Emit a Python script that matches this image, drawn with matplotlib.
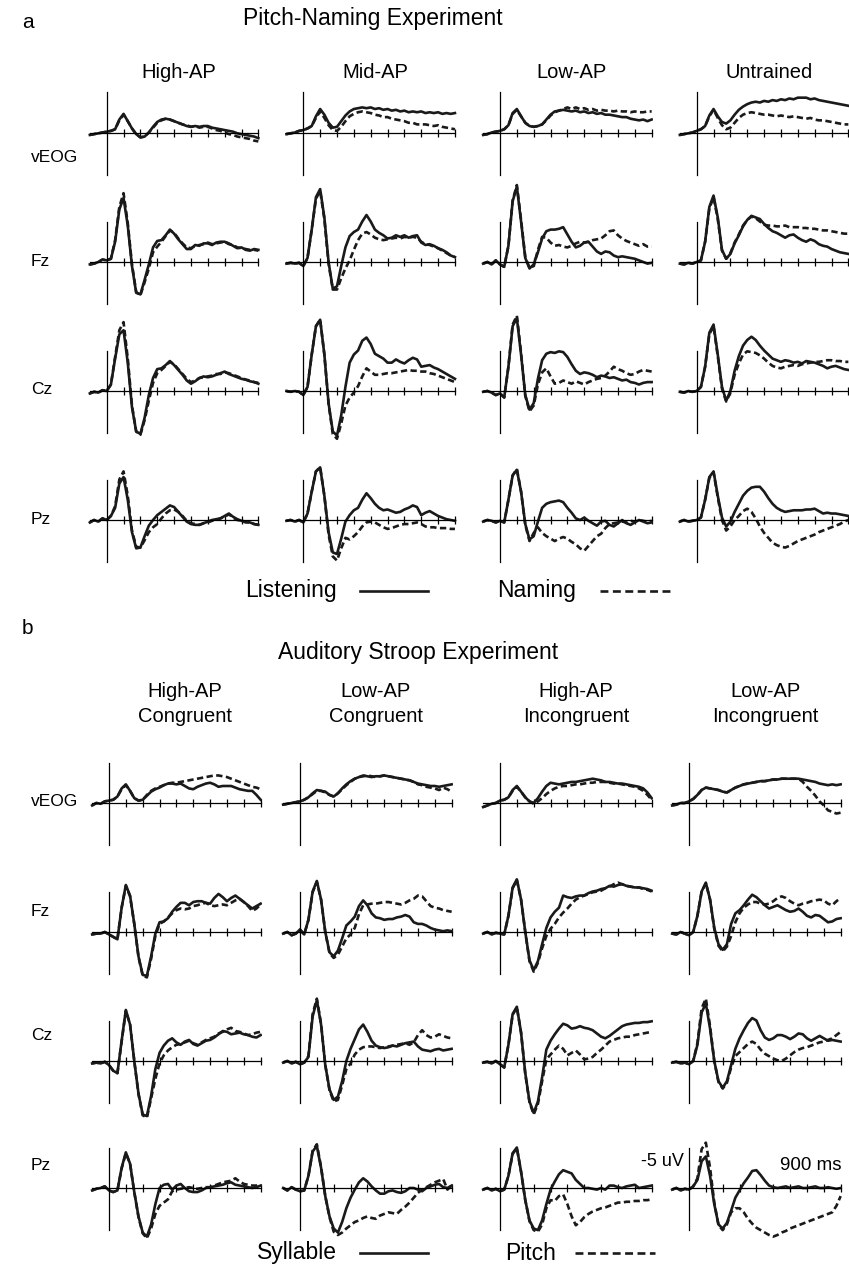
import matplotlib
matplotlib.use("Agg")
import matplotlib.pyplot as plt
from matplotlib.lines import Line2D

plt.rcParams["font.family"] = ["Liberation Sans", "DejaVu Sans"]

# sample times of every waveform (ms), and the time ticks on the baseline
times = [-100, -75, -50, -25, 0, 25, 50, 75, 100, 125, 150, 175, 200, 225, 250, 275,
         300, 325, 350, 375, 400, 425, 450, 475, 500, 525, 550, 575, 600, 625, 650,
         675, 700, 725, 750, 775, 800, 825, 850, 875, 900]
tick_ms = [100, 200, 300, 400, 500, 600, 700, 800, 900]

# ---- panel a: pitch-naming experiment (uV, negative up) ----
a_veog_high_listen = [0.3,0.2,0.1,0.0,-0.1,-0.2,-0.4,-1.6,-2.3,-1.4,-0.5,0.2,0.6,0.5,0.0,-0.7,-1.3,-1.6,-1.7,-1.6,-1.4,-1.2,-1.0,-0.8,-0.7,-0.8,-0.7,-0.8,-0.8,-0.6,-0.5,-0.4,-0.3,-0.2,-0.1,0.1,0.2,0.3,0.4,0.5,0.7]
a_veog_high_name = [0.3,0.2,0.1,0.0,-0.1,-0.2,-0.4,-1.5,-2.2,-1.4,-0.5,0.2,0.6,0.5,0.0,-0.6,-1.2,-1.5,-1.7,-1.6,-1.4,-1.2,-1.0,-0.9,-0.7,-0.8,-0.6,-0.7,-0.7,-0.5,-0.3,-0.2,0.0,0.2,0.3,0.5,0.6,0.7,0.8,1.0,1.1]
a_veog_mid_listen = [0.2,0.1,0.0,-0.2,-0.3,-0.5,-0.8,-2.0,-2.9,-2.2,-1.2,-0.6,-0.7,-1.4,-2.1,-2.6,-2.9,-3.0,-3.1,-3.0,-3.1,-2.9,-3.0,-2.8,-2.9,-2.7,-2.8,-2.6,-2.7,-2.5,-2.6,-2.5,-2.6,-2.4,-2.5,-2.4,-2.5,-2.3,-2.4,-2.3,-2.4]
a_veog_mid_name = [0.2,0.1,0.0,-0.2,-0.3,-0.5,-0.8,-1.8,-2.6,-1.8,-0.9,-0.3,-0.2,-0.7,-1.4,-2.0,-2.3,-2.5,-2.6,-2.5,-2.4,-2.2,-2.1,-1.9,-1.9,-1.7,-1.6,-1.5,-1.4,-1.2,-1.2,-1.0,-1.0,-1.0,-0.9,-0.8,-0.9,-0.7,-0.6,-0.5,-0.4]
a_veog_low_listen = [0.3,0.2,0.0,-0.1,-0.2,-0.4,-0.9,-2.4,-2.9,-2.0,-1.2,-0.8,-0.7,-0.8,-1.0,-1.6,-2.2,-2.6,-2.7,-2.8,-2.7,-2.6,-2.7,-2.5,-2.6,-2.4,-2.5,-2.3,-2.4,-2.2,-2.2,-2.1,-2.0,-1.9,-1.9,-1.7,-1.6,-1.5,-1.6,-1.4,-1.6]
a_veog_low_name = [0.3,0.2,0.0,-0.1,-0.2,-0.4,-0.9,-2.3,-2.8,-2.0,-1.2,-0.8,-0.7,-0.8,-1.0,-1.5,-2.1,-2.5,-2.7,-2.9,-3.1,-2.9,-3.1,-2.9,-3.0,-2.8,-2.9,-2.7,-2.8,-2.7,-2.7,-2.6,-2.7,-2.6,-2.6,-2.5,-2.6,-2.5,-2.5,-2.6,-2.6]
a_veog_untr_listen = [0.3,0.2,0.1,0.0,-0.2,-0.4,-0.8,-2.1,-2.9,-2.0,-1.3,-1.1,-1.5,-2.2,-2.8,-3.2,-3.5,-3.7,-3.8,-3.7,-3.9,-3.8,-4.0,-3.9,-4.1,-4.0,-4.2,-4.1,-4.3,-4.3,-4.3,-4.1,-4.2,-4.0,-3.9,-3.8,-3.7,-3.6,-3.5,-3.4,-3.3]
a_veog_untr_name = [0.3,0.2,0.1,0.0,-0.2,-0.4,-0.8,-2.0,-2.8,-1.8,-0.9,-0.4,-0.6,-1.2,-1.8,-2.2,-2.4,-2.5,-2.4,-2.3,-2.2,-2.2,-2.1,-2.0,-2.1,-2.0,-1.9,-2.0,-1.9,-1.8,-1.7,-1.8,-1.6,-1.5,-1.5,-1.4,-1.3,-1.2,-1.1,-1.0,-1.0]

a_fz_high_listen = [0.3,0.2,0.0,-0.3,-0.2,-0.4,-2.5,-6.5,-7.9,-4.5,0.5,3.8,4.0,2.2,0.3,-1.8,-2.6,-2.7,-3.3,-4.0,-3.5,-2.8,-2.2,-1.6,-1.6,-2.1,-2.0,-2.3,-2.3,-2.1,-2.4,-2.5,-2.5,-2.3,-2.0,-1.7,-1.8,-1.5,-1.4,-1.6,-1.5]
a_fz_high_name = [0.3,0.2,0.0,-0.3,-0.2,-0.4,-2.7,-6.8,-8.5,-4.8,0.3,3.7,4.1,2.5,0.8,-1.2,-1.9,-2.5,-3.2,-3.9,-3.6,-2.9,-2.3,-1.8,-1.7,-2.0,-2.1,-2.2,-2.4,-2.2,-2.3,-2.4,-2.5,-2.2,-2.1,-1.8,-1.7,-1.6,-1.5,-1.5,-1.4]
a_fz_mid_listen = [0.2,0.1,0.2,0.1,0.5,-0.5,-4.0,-8.0,-9.0,-5.5,0.0,3.3,3.0,0.5,-1.8,-3.2,-3.7,-4.0,-5.0,-5.8,-5.0,-4.0,-3.6,-3.3,-2.9,-3.0,-3.3,-3.1,-3.3,-3.0,-3.2,-3.3,-2.4,-2.1,-2.2,-2.0,-1.7,-1.5,-1.2,-0.8,-0.6]
a_fz_mid_name = [0.2,0.1,0.2,0.1,0.5,-0.5,-4.0,-7.8,-8.8,-5.3,0.2,3.4,3.4,2.0,0.8,-0.2,-1.5,-2.7,-3.5,-3.7,-3.4,-3.0,-2.8,-2.7,-2.8,-2.9,-3.0,-2.9,-3.1,-3.0,-3.1,-3.0,-2.5,-2.2,-2.1,-1.9,-1.7,-1.4,-1.1,-0.8,-0.6]
a_fz_low_listen = [0.2,0.0,0.3,-0.2,0.3,0.6,-2.0,-7.5,-9.3,-5.0,-0.5,0.8,0.3,-1.2,-2.9,-3.8,-4.0,-4.0,-4.1,-4.3,-3.4,-2.5,-1.8,-2.0,-2.4,-2.5,-1.9,-1.3,-1.0,-1.3,-1.2,-0.8,-0.6,-0.7,-0.6,-0.5,-0.4,-0.2,0.0,0.2,0.1]
a_fz_low_name = [0.2,0.0,0.3,-0.2,0.3,0.6,-2.0,-7.6,-9.5,-5.2,-0.6,0.7,0.5,-1.5,-3.1,-3.0,-2.4,-2.0,-2.1,-1.9,-1.8,-2.0,-2.3,-2.5,-2.4,-2.5,-2.7,-2.8,-2.9,-3.3,-3.8,-3.9,-3.3,-2.9,-2.6,-2.4,-2.2,-2.0,-2.2,-1.9,-1.9]
a_fz_untr_listen = [0.2,0.3,0.1,0.2,0.0,-0.2,-2.5,-6.8,-8.2,-5.5,-1.5,-0.4,-1.0,-2.3,-3.3,-4.4,-5.2,-5.7,-5.5,-5.3,-4.7,-4.2,-3.8,-3.6,-3.3,-3.0,-3.3,-3.4,-3.0,-2.7,-2.5,-2.8,-2.6,-2.2,-2.0,-1.9,-1.6,-1.4,-1.2,-1.1,-1.0]
a_fz_untr_name = [0.2,0.3,0.1,0.2,0.0,-0.2,-2.5,-6.6,-8.0,-5.3,-1.4,-0.4,-1.1,-2.4,-3.4,-4.5,-5.2,-5.6,-5.4,-5.0,-4.6,-4.5,-4.5,-4.4,-4.4,-4.5,-4.3,-4.3,-4.3,-4.2,-4.2,-4.1,-4.1,-4.0,-3.9,-3.9,-3.8,-3.7,-3.6,-3.5,-3.5]

a_cz_high_listen = [0.3,0.1,0.2,-0.1,0.0,-0.8,-4.0,-7.0,-7.5,-3.5,2.0,5.0,5.3,3.3,0.5,-1.6,-2.7,-2.8,-3.2,-3.7,-3.2,-2.6,-2.0,-1.3,-0.9,-1.2,-1.6,-1.8,-1.7,-1.8,-2.0,-2.2,-2.4,-2.1,-1.9,-1.7,-1.5,-1.4,-1.2,-1.1,-0.9]
a_cz_high_name = [0.3,0.1,0.2,-0.1,0.0,-0.8,-4.2,-7.5,-8.5,-4.0,1.8,5.0,5.4,3.6,1.2,-1.0,-2.2,-2.6,-3.1,-3.6,-3.3,-2.7,-2.1,-1.5,-1.1,-1.3,-1.6,-1.7,-1.8,-1.9,-2.1,-2.1,-2.3,-2.2,-2.0,-1.8,-1.6,-1.4,-1.3,-1.1,-1.0]
a_cz_mid_listen = [0.0,0.1,0.0,0.1,0.5,-0.5,-4.5,-8.0,-8.8,-4.5,1.5,5.0,5.5,3.0,-0.5,-3.5,-4.5,-5.0,-6.2,-6.6,-5.8,-4.6,-4.3,-4.0,-3.5,-3.5,-3.9,-3.6,-3.4,-3.8,-4.1,-3.9,-3.0,-3.1,-3.2,-2.9,-2.7,-2.4,-2.1,-1.8,-1.5]
a_cz_mid_name = [0.0,0.1,0.0,0.1,0.5,-0.5,-4.5,-8.0,-8.8,-4.5,1.6,5.3,5.9,4.0,1.8,0.8,0.2,-0.6,-1.8,-2.8,-2.4,-2.0,-2.0,-2.1,-2.2,-2.2,-2.3,-2.4,-2.5,-2.6,-2.5,-2.5,-2.4,-2.4,-2.2,-2.1,-1.9,-1.7,-1.5,-1.3,-1.1]
a_cz_low_listen = [0.1,0.0,0.2,0.5,0.3,0.8,-3.0,-8.0,-9.0,-4.5,0.5,2.3,1.5,-1.5,-3.8,-4.6,-4.8,-4.7,-4.9,-4.8,-4.2,-3.3,-2.5,-2.1,-2.3,-2.2,-2.0,-1.7,-1.9,-1.8,-1.6,-1.7,-1.5,-1.3,-1.4,-1.1,-1.0,-0.8,-1.0,-1.1,-1.1]
a_cz_low_name = [0.1,0.0,0.2,0.5,0.3,0.8,-3.0,-8.2,-9.3,-4.7,0.6,2.5,1.8,-0.8,-2.3,-2.8,-1.8,-0.9,-1.0,-1.3,-1.1,-0.9,-1.2,-1.0,-0.8,-1.1,-1.3,-1.5,-1.6,-1.9,-2.4,-3.0,-2.7,-2.5,-2.2,-2.0,-2.1,-2.4,-2.6,-2.5,-2.4]
a_cz_untr_listen = [0.1,0.2,0.0,0.1,0.0,-0.5,-3.0,-7.2,-8.2,-4.5,-0.5,1.2,0.0,-2.5,-4.3,-5.6,-6.3,-6.7,-6.3,-5.6,-5.0,-4.5,-4.0,-3.8,-3.6,-3.8,-3.7,-3.5,-3.6,-3.4,-3.7,-3.6,-3.5,-3.3,-3.1,-2.8,-3.0,-3.1,-2.9,-2.7,-2.6]
a_cz_untr_name = [0.1,0.2,0.0,0.1,0.0,-0.5,-3.0,-7.0,-8.0,-4.3,-0.3,1.3,0.2,-2.0,-3.4,-4.5,-4.9,-4.8,-4.7,-4.4,-4.0,-3.5,-3.1,-2.9,-2.8,-3.0,-3.1,-3.2,-3.1,-3.3,-3.4,-3.5,-3.6,-3.6,-3.7,-3.8,-3.8,-3.7,-3.7,-3.6,-3.6]

a_pz_high_listen = [0.3,0.0,0.2,-0.2,0.0,-0.5,-1.5,-4.5,-5.3,-2.5,1.5,3.5,3.4,2.0,0.7,0.0,-0.6,-1.0,-1.4,-1.8,-1.6,-1.0,-0.4,0.2,0.5,0.6,0.6,0.4,0.2,0.0,-0.1,-0.2,-0.5,-0.8,-0.4,-0.1,0.1,0.2,0.3,0.5,0.6]
a_pz_high_name = [0.3,0.0,0.2,-0.2,0.0,-0.5,-1.7,-5.0,-6.0,-3.0,1.3,3.3,3.4,2.5,1.5,0.9,0.5,-0.2,-0.8,-1.2,-1.3,-1.0,-0.5,0.1,0.4,0.5,0.6,0.4,0.3,0.1,0.0,-0.2,-0.4,-0.7,-0.3,0.0,0.1,0.3,0.3,0.5,0.6]
a_pz_mid_listen = [0.1,0.0,0.2,0.0,0.3,-0.8,-3.5,-6.0,-6.5,-3.0,1.5,4.0,4.2,2.3,0.2,-0.6,-1.2,-1.5,-2.5,-3.3,-2.7,-2.0,-1.5,-1.2,-1.3,-1.1,-0.9,-1.0,-1.3,-1.5,-1.8,-1.6,-0.6,-0.9,-1.1,-0.8,-0.5,-0.3,-0.1,0.0,0.1]
a_pz_mid_name = [0.1,0.0,0.2,0.0,0.3,-0.8,-3.5,-6.0,-6.5,-3.0,1.8,4.5,5.0,3.5,2.2,2.4,2.0,1.5,0.8,0.3,0.2,0.3,0.6,0.9,1.1,1.0,0.8,0.6,0.5,0.5,0.4,0.3,0.5,0.8,0.9,0.9,1.0,1.0,1.0,1.1,1.1]
a_pz_low_listen = [0.2,0.0,0.1,0.3,0.1,0.3,-2.5,-5.5,-6.2,-3.5,0.5,2.4,2.0,0.2,-1.5,-2.0,-2.2,-2.3,-2.4,-2.2,-1.5,-0.9,-0.2,0.0,-0.3,0.1,0.4,0.7,0.2,0.1,0.6,0.8,0.4,0.0,0.4,0.6,0.3,0.0,0.2,0.4,0.3]
a_pz_low_name = [0.2,0.0,0.1,0.3,0.1,0.3,-2.5,-5.5,-6.3,-3.5,0.6,2.6,1.6,0.9,1.6,2.0,2.3,2.6,2.3,2.1,2.3,2.7,3.0,3.5,3.8,3.2,2.6,2.0,1.7,1.0,0.5,0.4,0.3,0.2,0.3,0.1,0.2,0.0,0.1,0.2,0.1]
a_pz_untr_listen = [0.2,0.0,0.2,0.1,0.0,-0.3,-2.5,-5.3,-6.0,-3.0,-0.3,0.8,0.2,-1.0,-2.0,-3.0,-3.6,-4.0,-4.1,-4.1,-3.5,-2.7,-2.0,-1.5,-1.2,-1.0,-1.1,-1.2,-1.2,-1.2,-1.3,-1.3,-1.4,-1.1,-0.8,-0.9,-0.8,-0.8,-0.7,-0.6,-0.5]
a_pz_untr_name = [0.2,0.0,0.2,0.1,0.0,-0.3,-2.5,-5.2,-5.9,-2.8,0.0,1.3,0.8,0.0,-0.5,-1.1,-1.4,-1.0,-0.2,0.8,1.6,2.2,2.8,3.1,3.3,3.4,3.2,2.9,2.6,2.4,2.2,2.0,1.8,1.5,1.3,1.1,0.9,0.7,0.5,0.2,0.0]

# ---- panel b: auditory Stroop experiment (uV, negative up) ----
b_veog_hc_syl = [0.3,0.0,0.1,-0.2,-0.3,-0.4,-0.8,-1.8,-2.3,-1.5,-0.6,-0.3,-0.4,-0.9,-1.4,-1.7,-1.9,-2.2,-2.4,-2.4,-2.3,-2.4,-2.1,-1.8,-1.7,-2.0,-2.2,-2.4,-2.5,-2.3,-2.0,-2.1,-2.1,-2.1,-1.9,-1.7,-1.6,-1.5,-1.5,-1.0,-0.4]
b_veog_hc_pit = [0.3,0.0,0.1,-0.2,-0.3,-0.4,-0.8,-1.7,-2.2,-1.5,-0.6,-0.3,-0.4,-1.0,-1.5,-1.8,-2.0,-2.2,-2.4,-2.5,-2.5,-2.6,-2.7,-2.8,-2.9,-3.0,-3.1,-3.2,-3.3,-3.4,-3.4,-3.3,-3.2,-3.0,-2.8,-2.6,-2.4,-2.2,-2.0,-1.9,-1.7]
b_veog_lc_syl = [0.2,0.1,0.0,-0.1,-0.2,-0.4,-0.7,-1.2,-1.6,-1.5,-1.4,-1.0,-0.8,-1.2,-1.8,-2.3,-2.7,-3.0,-3.2,-3.4,-3.3,-3.2,-3.3,-3.3,-3.4,-3.3,-3.2,-3.1,-3.0,-2.9,-2.8,-2.6,-2.4,-2.3,-2.2,-2.1,-2.1,-2.0,-2.1,-2.2,-2.3]
b_veog_lc_pit = [0.2,0.1,0.0,-0.1,-0.2,-0.4,-0.7,-1.1,-1.5,-1.5,-1.3,-1.0,-0.8,-1.2,-1.7,-2.2,-2.6,-3.0,-3.2,-3.3,-3.4,-3.3,-3.2,-3.3,-3.4,-3.3,-3.2,-3.1,-3.0,-2.9,-2.8,-2.6,-2.3,-2.2,-2.0,-1.9,-1.8,-1.6,-1.9,-1.7,-1.4]
b_veog_hi_syl = [0.5,0.3,0.1,0.0,-0.3,-0.4,-0.7,-1.6,-2.1,-1.4,-0.7,-0.2,0.0,-0.6,-1.4,-2.1,-2.5,-2.4,-2.3,-2.4,-2.5,-2.6,-2.6,-2.7,-2.8,-2.9,-3.0,-2.9,-2.8,-2.6,-2.6,-2.5,-2.4,-2.4,-2.3,-2.2,-2.1,-2.0,-1.8,-1.3,-0.6]
b_veog_hi_pit = [0.5,0.3,0.1,0.0,-0.3,-0.4,-0.7,-1.5,-2.0,-1.4,-0.7,-0.2,0.1,-0.2,-0.6,-1.1,-1.5,-1.8,-2.0,-2.1,-2.1,-2.2,-2.3,-2.3,-2.4,-2.5,-2.5,-2.6,-2.6,-2.6,-2.5,-2.4,-2.4,-2.3,-2.2,-2.1,-2.0,-1.8,-1.5,-1.0,-0.4]
b_veog_li_syl = [0.3,0.2,0.0,0.0,-0.2,-0.5,-1.0,-1.6,-1.9,-1.8,-1.7,-1.6,-1.4,-1.3,-1.6,-1.9,-2.1,-2.3,-2.4,-2.5,-2.6,-2.7,-2.7,-2.8,-2.9,-2.9,-3.0,-3.0,-3.0,-3.0,-3.0,-2.9,-2.8,-2.7,-2.6,-2.4,-2.3,-2.2,-2.3,-2.2,-2.3]
b_veog_li_pit = [0.3,0.2,0.0,0.0,-0.2,-0.5,-1.0,-1.6,-1.9,-1.8,-1.7,-1.6,-1.4,-1.3,-1.6,-1.9,-2.1,-2.3,-2.4,-2.5,-2.6,-2.7,-2.7,-2.8,-2.9,-2.9,-3.0,-3.0,-3.0,-3.0,-3.0,-2.6,-2.0,-1.5,-0.9,-0.2,0.3,0.9,1.1,1.3,1.2]

b_fz_hc_syl = [0.3,0.2,0.2,0.0,0.3,0.6,0.9,-3.0,-5.8,-4.5,-1.0,3.0,5.3,5.4,3.0,0.2,-1.2,-1.3,-1.7,-2.5,-3.1,-3.6,-3.6,-3.3,-3.7,-3.8,-3.8,-3.6,-3.5,-4.2,-4.7,-4.3,-3.8,-4.2,-4.5,-4.1,-3.7,-3.3,-2.9,-3.2,-3.5]
b_fz_hc_pit = [0.3,0.2,0.2,0.0,0.3,0.6,0.9,-3.0,-5.7,-4.4,-1.0,3.1,5.4,5.6,3.3,0.5,-1.0,-1.3,-1.8,-2.3,-2.7,-2.9,-2.8,-2.9,-3.2,-3.3,-3.5,-3.6,-3.3,-3.2,-3.3,-3.4,-3.3,-3.6,-3.9,-4.1,-3.7,-3.2,-2.6,-2.9,-3.4]
b_fz_lc_syl = [0.2,0.0,0.4,0.2,-0.3,0.3,-1.5,-5.0,-6.3,-4.0,0.0,2.5,3.0,2.3,0.8,-0.8,-1.3,-1.9,-3.2,-3.9,-3.3,-2.3,-1.8,-1.7,-1.5,-1.6,-1.6,-1.8,-1.9,-2.1,-1.9,-1.2,-1.0,-1.0,-0.8,-0.5,-0.3,-0.2,-0.1,-0.2,-0.1]
b_fz_lc_pit = [0.2,0.0,0.4,0.2,-0.3,0.3,-1.5,-4.9,-6.2,-4.0,0.0,2.6,3.2,2.8,1.8,0.8,0.3,-0.5,-2.2,-3.3,-3.4,-3.5,-3.5,-3.6,-3.7,-3.7,-3.6,-3.5,-3.4,-3.6,-3.9,-4.1,-4.5,-4.4,-3.8,-3.2,-3.0,-2.9,-2.7,-2.6,-2.5]
b_fz_hi_syl = [0.2,0.0,0.3,0.1,0.2,0.3,-2.0,-5.5,-6.5,-4.0,0.0,3.5,4.7,3.6,1.5,-0.5,-1.8,-2.5,-3.0,-4.5,-4.3,-4.2,-4.4,-4.5,-4.5,-4.8,-5.0,-5.1,-5.3,-5.4,-5.7,-5.6,-5.8,-5.9,-5.7,-5.6,-5.5,-5.5,-5.4,-5.3,-5.1]
b_fz_hi_pit = [0.2,0.0,0.3,0.1,0.2,0.3,-2.0,-5.4,-6.4,-4.0,0.0,3.6,4.9,3.8,2.0,0.5,-0.4,-1.0,-1.8,-2.4,-2.9,-3.5,-4.0,-4.3,-4.5,-4.7,-4.9,-5.0,-5.1,-5.4,-5.6,-5.9,-6.1,-5.9,-5.7,-5.6,-5.5,-5.5,-5.3,-5.2,-5.0]
b_fz_li_syl = [0.2,0.3,0.0,0.2,0.4,0.0,-2.0,-5.0,-6.1,-4.0,-0.5,1.5,2.2,1.5,-1.0,-2.3,-2.7,-3.3,-4.0,-4.6,-4.3,-3.8,-3.3,-2.9,-3.1,-3.3,-3.0,-2.7,-2.5,-2.6,-2.9,-2.5,-2.0,-1.8,-2.1,-2.0,-1.6,-1.2,-1.3,-1.6,-1.7]
b_fz_li_pit = [0.2,0.3,0.0,0.2,0.4,0.0,-2.0,-5.0,-6.0,-4.0,-0.4,1.7,2.4,1.8,0.5,-1.2,-2.3,-3.0,-3.4,-3.7,-3.7,-3.5,-3.4,-3.5,-3.8,-4.2,-4.4,-4.2,-3.8,-3.5,-3.3,-3.5,-3.6,-3.8,-3.9,-4.0,-3.9,-3.5,-3.3,-3.8,-4.2]

b_cz_hc_syl = [0.3,0.2,0.3,0.1,0.5,1.2,1.5,-2.5,-6.3,-4.5,0.0,4.0,6.6,6.8,4.3,1.0,-1.0,-1.9,-2.5,-2.8,-2.3,-2.0,-2.4,-2.6,-2.1,-1.9,-2.2,-2.5,-2.6,-2.9,-3.3,-3.7,-3.6,-3.3,-3.4,-3.5,-3.3,-3.2,-3.0,-2.9,-3.2]
b_cz_hc_pit = [0.3,0.2,0.3,0.1,0.5,1.2,1.5,-2.4,-6.2,-4.5,0.0,4.1,6.7,7.0,4.6,2.2,0.3,-0.7,-1.3,-1.7,-2.0,-2.1,-2.3,-2.5,-2.2,-2.0,-2.3,-2.6,-2.8,-3.0,-3.4,-3.6,-3.9,-4.1,-3.7,-3.6,-3.4,-3.2,-3.3,-3.5,-3.6]
b_cz_lc_syl = [0.2,0.0,0.3,0.1,0.4,0.2,-0.5,-5.5,-7.5,-4.5,0.5,3.5,4.8,4.4,2.5,0.0,-1.5,-2.7,-3.9,-4.5,-3.6,-2.5,-1.9,-1.7,-1.6,-1.7,-1.9,-1.8,-2.0,-2.2,-2.3,-2.4,-1.8,-1.4,-1.3,-1.2,-1.4,-1.5,-1.3,-1.4,-1.5]
b_cz_lc_pit = [0.2,0.0,0.3,0.1,0.4,0.2,-0.6,-5.8,-7.7,-4.6,0.5,3.6,5.0,4.8,3.0,1.0,0.3,-0.8,-1.4,-1.7,-1.8,-1.8,-1.7,-1.6,-1.7,-1.8,-1.9,-2.0,-2.1,-2.2,-2.0,-2.3,-3.2,-3.8,-3.2,-2.9,-3.0,-3.3,-3.1,-2.9,-2.8]
b_cz_hi_syl = [0.2,0.1,0.3,0.0,0.4,0.8,-2.0,-5.8,-6.7,-3.5,1.5,5.0,6.4,5.0,2.0,-1.4,-2.5,-3.3,-4.0,-4.6,-4.4,-4.0,-4.1,-4.3,-4.1,-4.0,-3.8,-3.4,-3.0,-2.8,-3.1,-3.5,-3.9,-4.3,-4.5,-4.6,-4.7,-4.7,-4.8,-4.8,-4.9]
b_cz_hi_pit = [0.2,0.1,0.3,0.0,0.4,0.8,-2.0,-5.7,-6.6,-3.5,1.6,5.1,6.6,5.3,2.5,-0.2,-0.8,-1.4,-1.9,-1.5,-0.7,-1.0,-1.3,-0.8,-0.2,-0.3,-0.5,-1.0,-1.4,-1.9,-2.4,-2.6,-2.8,-2.9,-3.0,-3.0,-3.2,-3.3,-3.4,-3.5,-3.6]
b_cz_li_syl = [0.2,0.1,0.3,0.2,0.4,0.0,-2.0,-6.0,-7.1,-4.0,0.0,2.5,3.3,2.5,0.5,-1.5,-2.8,-3.8,-4.7,-5.3,-5.0,-3.8,-2.9,-2.6,-2.8,-3.2,-3.2,-3.0,-2.7,-3.0,-3.4,-3.3,-2.8,-2.5,-2.8,-3.1,-2.8,-2.5,-2.6,-2.5,-2.4]
b_cz_li_pit = [0.2,0.1,0.3,0.2,0.4,0.0,-2.2,-6.5,-7.7,-4.3,0.0,2.6,3.4,2.7,0.8,-0.6,-1.1,-1.6,-2.1,-2.4,-2.1,-1.4,-0.9,-0.6,-0.3,-0.1,0.0,-0.3,-0.7,-1.1,-1.4,-1.6,-1.7,-1.9,-2.1,-2.3,-2.4,-2.6,-2.8,-3.2,-3.6]

b_pz_hc_syl = [0.3,0.1,0.0,-0.2,0.3,0.5,0.3,-2.5,-4.4,-3.0,0.5,3.5,5.5,6.0,4.5,2.0,0.0,-0.4,-0.5,0.2,-0.3,-0.5,0.0,0.4,0.5,0.5,0.3,0.0,-0.1,-0.2,-0.3,-0.4,-0.6,-0.7,-0.4,-0.3,-0.2,-0.1,0.0,-0.1,-0.3]
b_pz_hc_pit = [0.3,0.1,0.0,-0.2,0.3,0.5,0.3,-2.4,-4.3,-3.0,0.5,3.6,5.6,6.2,5.0,3.2,2.2,1.8,1.4,0.4,0.2,0.1,0.0,-0.1,0.0,0.1,0.0,-0.1,-0.1,-0.3,-0.5,-0.7,-0.8,-0.9,-1.2,-0.8,-0.5,-0.4,-0.3,-0.3,-0.4]
b_pz_lc_syl = [0.0,0.3,-0.1,0.2,0.4,0.3,-1.5,-4.5,-5.2,-2.5,1.0,3.5,5.0,5.5,4.2,2.5,1.2,0.2,-0.7,-1.2,-0.8,-0.2,0.3,0.7,0.7,0.4,0.3,0.5,0.6,0.4,0.0,0.0,0.2,0.4,0.0,-0.2,-0.4,-0.5,-0.1,0.0,-0.3]
b_pz_lc_pit = [0.0,0.3,-0.1,0.2,0.4,0.3,-1.5,-4.6,-5.4,-2.6,1.0,3.6,5.4,5.8,5.5,5.0,4.6,4.2,4.0,3.7,3.5,3.7,3.8,3.4,3.2,3.0,3.1,3.2,2.7,2.3,1.8,1.2,0.6,0.2,-0.1,-0.4,-0.7,-0.9,-1.1,0.2,-0.3]
b_pz_hi_syl = [0.2,0.0,0.3,0.1,0.4,0.2,-1.5,-4.3,-5.0,-2.0,1.5,4.0,5.0,5.2,4.0,2.0,0.2,-0.8,-1.7,-2.2,-2.0,-1.8,-1.0,-0.5,0.0,0.0,0.1,0.2,0.0,0.2,-0.3,-0.3,-0.1,0.0,-0.2,-0.3,-0.4,0.0,-0.1,-0.2,-0.3]
b_pz_hi_pit = [0.2,0.0,0.3,0.1,0.4,0.2,-1.5,-4.2,-4.9,-2.0,1.5,4.1,5.2,5.4,4.5,2.5,1.5,1.6,1.0,0.8,2.0,3.5,4.6,4.2,3.6,3.2,2.9,2.7,2.5,2.4,2.2,2.0,1.8,1.8,1.7,1.7,1.6,1.6,1.5,1.5,1.4]
b_pz_li_syl = [0.2,0.0,0.3,0.1,0.2,-0.2,-1.0,-3.3,-3.9,-1.5,2.0,4.5,5.0,4.3,2.8,1.2,0.3,-0.6,-1.3,-2.1,-2.2,-1.6,-0.9,-0.3,-0.1,0.0,-0.1,-0.2,0.0,-0.1,-0.2,0.0,0.0,-0.1,-0.2,0.0,0.0,-0.1,0.0,0.1,0.0]
b_pz_li_pit = [0.2,0.0,0.3,0.1,0.2,-0.2,-1.2,-4.8,-5.6,-2.5,1.8,4.6,5.2,4.5,3.0,2.5,2.5,3.0,3.8,4.4,4.9,5.2,5.5,5.8,6.0,5.8,5.5,5.3,5.0,4.8,4.6,4.4,4.2,4.0,3.8,3.6,3.4,3.2,3.0,2.2,1.0]

row_names = ["vEOG", "Fz", "Cz", "Pz"]
a_titles = ["High-AP", "Mid-AP", "Low-AP", "Untrained"]
b_titles = ["High-AP\nCongruent", "Low-AP\nCongruent", "High-AP\nIncongruent", "Low-AP\nIncongruent"]

a_solid = [[a_veog_high_listen, a_veog_mid_listen, a_veog_low_listen, a_veog_untr_listen],
           [a_fz_high_listen, a_fz_mid_listen, a_fz_low_listen, a_fz_untr_listen],
           [a_cz_high_listen, a_cz_mid_listen, a_cz_low_listen, a_cz_untr_listen],
           [a_pz_high_listen, a_pz_mid_listen, a_pz_low_listen, a_pz_untr_listen]]
a_dashed = [[a_veog_high_name, a_veog_mid_name, a_veog_low_name, a_veog_untr_name],
            [a_fz_high_name, a_fz_mid_name, a_fz_low_name, a_fz_untr_name],
            [a_cz_high_name, a_cz_mid_name, a_cz_low_name, a_cz_untr_name],
            [a_pz_high_name, a_pz_mid_name, a_pz_low_name, a_pz_untr_name]]
b_solid = [[b_veog_hc_syl, b_veog_lc_syl, b_veog_hi_syl, b_veog_li_syl],
           [b_fz_hc_syl, b_fz_lc_syl, b_fz_hi_syl, b_fz_li_syl],
           [b_cz_hc_syl, b_cz_lc_syl, b_cz_hi_syl, b_cz_li_syl],
           [b_pz_hc_syl, b_pz_lc_syl, b_pz_hi_syl, b_pz_li_syl]]
b_dashed = [[b_veog_hc_pit, b_veog_lc_pit, b_veog_hi_pit, b_veog_li_pit],
            [b_fz_hc_pit, b_fz_lc_pit, b_fz_hi_pit, b_fz_li_pit],
            [b_cz_hc_pit, b_cz_lc_pit, b_cz_hi_pit, b_cz_li_pit],
            [b_pz_hc_pit, b_pz_lc_pit, b_pz_hi_pit, b_pz_li_pit]]

# layout, in pixels of the 849x1269 picture
W, H = 849, 1269
PX_MS = 0.1685   # px per ms
PX_UV = 8.1      # px per uV
a_xzero = [106.7, 303.3, 500.0, 696.7]
a_ybase = [132.5, 262.0, 391.0, 520.0]
a_ylabel = [157, 262, 389, 519]
b_xzero = [109.0, 300.0, 500.0, 689.0]
b_ybase = [803.0, 932.0, 1061.0, 1188.0]
b_ylabel = [802, 912, 1035, 1166]

LW = 1.9
DASH = (0, (2.4, 1.3))
FS = 14.5


def fx(px):
    return px / W


def fy(py):
    return 1 - py / H


def erp_axes(fig, x0, y0):
    left = (x0 - 110 * PX_MS) / W
    bottom = 1 - (y0 + 12 * PX_UV) / H
    ax = fig.add_axes([left, bottom, 1020 * PX_MS / W, 24 * PX_UV / H])
    ax.set_xlim(-110, 910)
    ax.set_ylim(12, -12)
    ax.patch.set_visible(False)
    ax.spines["top"].set_visible(False)
    ax.spines["right"].set_visible(False)
    ax.spines["left"].set_position(("data", 0))
    ax.spines["left"].set_bounds(-5, 5.2)
    ax.spines["bottom"].set_position(("data", 0))
    ax.spines["bottom"].set_bounds(-100, 900)
    for s in ("left", "bottom"):
        ax.spines[s].set_linewidth(0.9)
    ax.set_xticks(tick_ms)
    ax.set_xticklabels([])
    ax.tick_params(axis="x", direction="inout", length=6, width=0.9)
    ax.set_yticks([])
    return ax


fig = plt.figure(figsize=(W / 100, H / 100), dpi=100)

panels = [(a_xzero, a_ybase, a_ylabel, a_solid, a_dashed),
          (b_xzero, b_ybase, b_ylabel, b_solid, b_dashed)]
for xz, yb, yl, solid, dashed in panels:
    for r in range(4):
        for c in range(4):
            ax = erp_axes(fig, xz[c], yb[r])
            ax.plot(times, dashed[r][c], color="#1a1a1a", lw=LW, ls=DASH)
            ax.plot(times, solid[r][c], color="#1a1a1a", lw=LW)
        fig.text(fx(31), fy(yl[r]), row_names[r], ha="left", va="center", fontsize=12.5)

# panel a texts
fig.text(fx(22), fy(22), "a", ha="left", va="center", fontsize=15)
fig.text(fx(373), fy(18), "Pitch-Naming Experiment", ha="center", va="center", fontsize=16.5)
for c, t in enumerate(a_titles):
    fig.text(fx(a_xzero[c] + 72), fy(72), t, ha="center", va="center", fontsize=FS)

# panel b texts
fig.text(fx(22), fy(628), "b", ha="left", va="center", fontsize=15)
fig.text(fx(418), fy(652), "Auditory Stroop Experiment", ha="center", va="center", fontsize=16.5)
for c, t in enumerate(b_titles):
    fig.text(fx(b_xzero[c] + 76), fy(704), t, ha="center", va="center", fontsize=FS,
             linespacing=1.45)

# scale labels
fig.text(fx(684), fy(1162), "-5 uV", ha="right", va="center", fontsize=13)
fig.text(fx(842), fy(1165), "900 ms", ha="right", va="center", fontsize=13.5)


def legend_row(y, items):
    for label, x_text, x0, x1, style in items:
        fig.text(fx(x_text), fy(y), label, ha="left", va="center", fontsize=16.5)
        fig.add_artist(Line2D([fx(x0), fx(x1)], [fy(y), fy(y)], color="#1a1a1a",
                              lw=LW, ls=style, transform=fig.transFigure))


legend_row(591, [("Listening", 245, 360, 428, "-"), ("Naming", 497, 600, 670, (0, (3.0, 1.7)))])
legend_row(1253, [("Syllable", 257, 360, 428, "-"), ("Pitch", 505, 575, 655, (0, (3.0, 1.7)))])

fig.savefig("out.png", dpi=100)
